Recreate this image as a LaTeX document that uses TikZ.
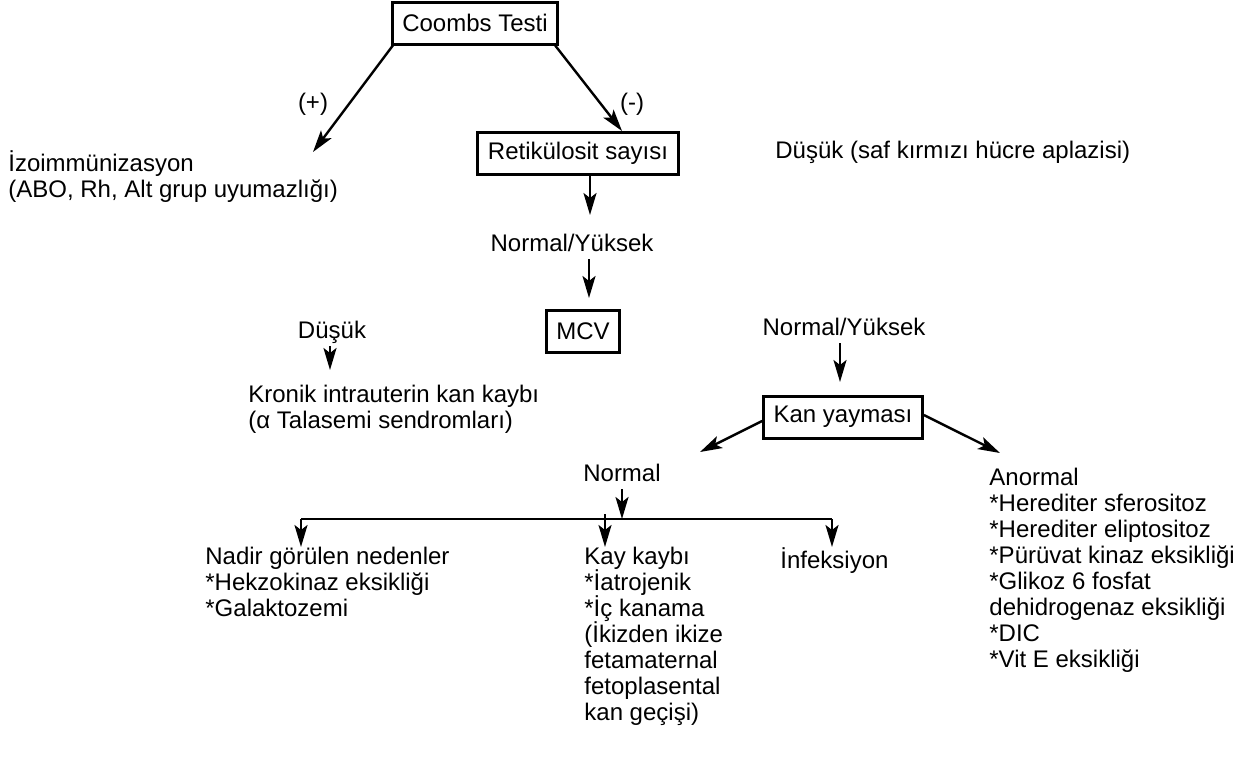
\documentclass[tikz,border=0pt]{standalone}
\usepackage{fontspec}
\setmainfont{Liberation Sans}
\usetikzlibrary{arrows.meta}

\begin{document}
\begin{tikzpicture}[x=0.5pt, y=-0.5pt,
    every node/.style={font=\fontsize{12}{13}\selectfont},
    box/.style={rectangle, draw, line width=1.5pt, inner xsep=5pt,
                minimum height=21pt},
    lbl/.style={inner sep=0pt, execute at begin node=\strut},
    txt/.style={anchor=north west, inner sep=0pt, align=left,
                execute at begin node=\strut},
    arr/.style={-{Stealth[length=11pt, width=6.5pt, inset=2.5pt]},
                line width=1.2pt}]

    \useasboundingbox (0,0) rectangle (1237,756);

    % Kutular
    \node[box] (coombs) at (475,23)  {Coombs Testi};
    \node[box] (retik)  at (578,153) {Retikülosit sayısı};
    \node[box] (mcv)    at (583,331) {MCV};
    \node[box] (kan)    at (843,417) {Kan yayması};

    % Etiketler
    \node[lbl] (arti)   at (313,105) {(+)};
    \node[lbl] (eksi)   at (632,105) {(-)};
    \node[lbl] (nyuk1)  at (572,246) {Normal/Yüksek};
    \node[lbl] (dusuk)  at (332,333) {Düşük};
    \node[lbl] (nyuk2)  at (844,330) {Normal/Yüksek};
    \node[lbl] (normal) at (622,476) {Normal};

    % Metinler
    \node[txt] (izo)    at (8,150)   {İzoimmünizasyon\\(ABO, Rh, Alt grup uyumazlığı)};
    \node[txt] (aplazi) at (775,140) {Düşük (saf kırmızı hücre aplazisi)};
    \node[txt] (kronik) at (248,385) {Kronik intrauterin kan kaybı\\(α Talasemi sendromları)};
    \node[txt] (anormal) at (989,468) {Anormal\\*Herediter sferositoz\\*Herediter eliptositoz\\*Pürüvat kinaz eksikliği\\*Glikoz 6 fosfat\\dehidrogenaz eksikliği\\*DIC\\*Vit E eksikliği};
    \node[txt] (nadir)  at (205,547) {Nadir görülen nedenler\\*Hekzokinaz eksikliği\\*Galaktozemi};
    \node[txt] (kay)    at (584,547) {Kay kaybı\\*İatrojenik\\*İç kanama\\(İkizden ikize\\fetamaternal\\fetoplasental\\kan geçişi)};
    \node[txt] (infek)  at (780,547) {İnfeksiyon};

    % Ok uclari
    \coordinate (p1) at (313,152);
    \coordinate (p2) at (622,131);
    \coordinate (r1) at (590,215);
    \coordinate (m1) at (589,298);
    \coordinate (d1) at (330,370);
    \coordinate (k1) at (840,382);
    \coordinate (s1) at (700,452);
    \coordinate (s2) at (1000,453);
    \coordinate (barL) at (301,519);
    \coordinate (barM) at (605,514);
    \coordinate (barR) at (832,519);

    % Oklar
    \draw[arr] ([xshift=1pt]coombs.south west) -- (p1);
    \draw[arr] ([xshift=-2pt]coombs.south east) -- (p2);
    \draw[arr] (r1 |- retik.south) -- (r1);
    \draw[arr] (m1 |- nyuk1.south) -- (m1);
    \draw[arr] (d1 |- dusuk.south) -- (d1);
    \draw[arr] (k1 |- nyuk2.south) -- (k1);
    \draw[arr] ([yshift=-2pt]kan.west) -- (s1);
    \draw[arr] ([yshift=1pt]kan.east) -- (s2);
    \draw[arr] (normal.south) -- (normal.south |- barL);

    % Yatay cizgi
    \draw[line width=1.2pt] (barL) -- (barR);
    \draw[arr] (barL) -- (barL |- nadir.north);
    \draw[arr] (barM) -- (barM |- kay.north);
    \draw[arr] (barR) -- (barR |- infek.north);

\end{tikzpicture}
\end{document}
